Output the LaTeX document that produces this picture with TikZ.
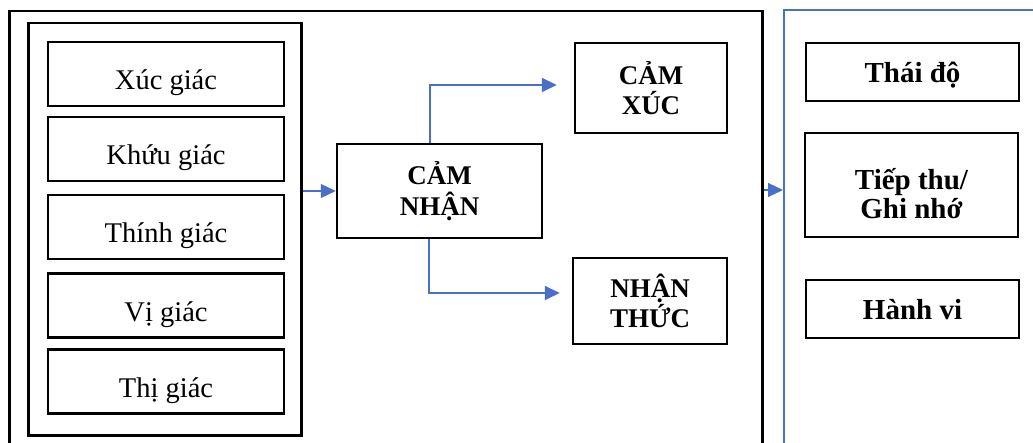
\documentclass[tikz,border=0pt]{standalone}
\usepackage{fontspec}
\setmainfont{Liberation Serif}
\usetikzlibrary{arrows.meta}
\definecolor{flow}{HTML}{4A6FC8}

\begin{document}
\begin{tikzpicture}[x=1pt,y=-1pt,
  box/.style={draw=black, line width=2.5pt, inner sep=0pt, align=center},
  frame/.style={box, anchor=north west},
  sense/.style={box, minimum width=236pt, minimum height=64pt,
    text height=34pt, text depth=2pt,
    font=\fontsize{28.5}{30}\selectfont},
  capsbox/.style={box, font=\fontsize{27}{30.5}\selectfont\bfseries},
  effect/.style={box, minimum width=213pt,
    font=\fontsize{29}{27}\selectfont\bfseries},
  oneline/.style={text height=26pt, text depth=4pt},
  tip/.style={-{Triangle[length=15pt,width=14pt]}},
  thick arrow/.style={draw=flow, line width=2pt, tip},
  thin arrow/.style={draw=flow, line width=1.2pt, tip}]

\useasboundingbox (0,0) rectangle (1033,443);
\clip (0,0) rectangle (1033,443);

% containers
\node[frame, minimum width=753pt, minimum height=450pt] (outer) at (8,10) {};
\node[frame, minimum width=273pt, minimum height=412pt] (senses) at (27,22) {};
\node[frame, draw=flow, line width=2pt, minimum width=300pt, minimum height=450pt]
  (resp) at (783,9) {};

% the five senses
\node[sense] (s1) at (166,74)    {Xúc giác};
\node[sense] (s2) at (166,149)   {Khứu giác};
\node[sense] (s3) at (166,227)   {Thính giác};
\node[sense] (s4) at (166,305.5) {Vị giác};
\node[sense] (s5) at (166,381.5) {Thị giác};

% perception and its two branches
\node[capsbox, minimum width=205pt, minimum height=94pt] (cn) at (439.5,191) {CẢM\\NHẬN};
\node[capsbox, minimum width=152pt, minimum height=90pt] (cx) at (651,88)    {CẢM\\XÚC};
\node[capsbox, minimum width=154pt, minimum height=86pt] (nt) at (650,301)   {NHẬN\\THỨC};

% responses
\node[effect, oneline, minimum height=58pt] (r1) at (912.5,72) {Thái độ};
\node[effect, minimum height=104pt, text height=20pt, text depth=10pt] (r2) at (911.5,185)
  {\begin{tabular}[t]{@{}c@{}}Tiếp thu/\\Ghi nhớ\end{tabular}};
\node[effect, oneline, minimum height=58pt] (r3) at (912.5,309) {Hành vi};

% connectors
\coordinate (rin) at (783,190);
\draw[thin arrow] (senses.east |- cn.west) -- (cn.west);
\draw[thick arrow] ([xshift=-9.5pt]cn.north) |- ([xshift=-17pt,yshift=3pt]cx.west);
\draw[thick arrow] ([xshift=-10.5pt]cn.south) |- ([xshift=-12pt,yshift=8pt]nt.west);
\draw[thin arrow] (outer.east |- rin) -- (resp.west |- rin);
\end{tikzpicture}
\end{document}
